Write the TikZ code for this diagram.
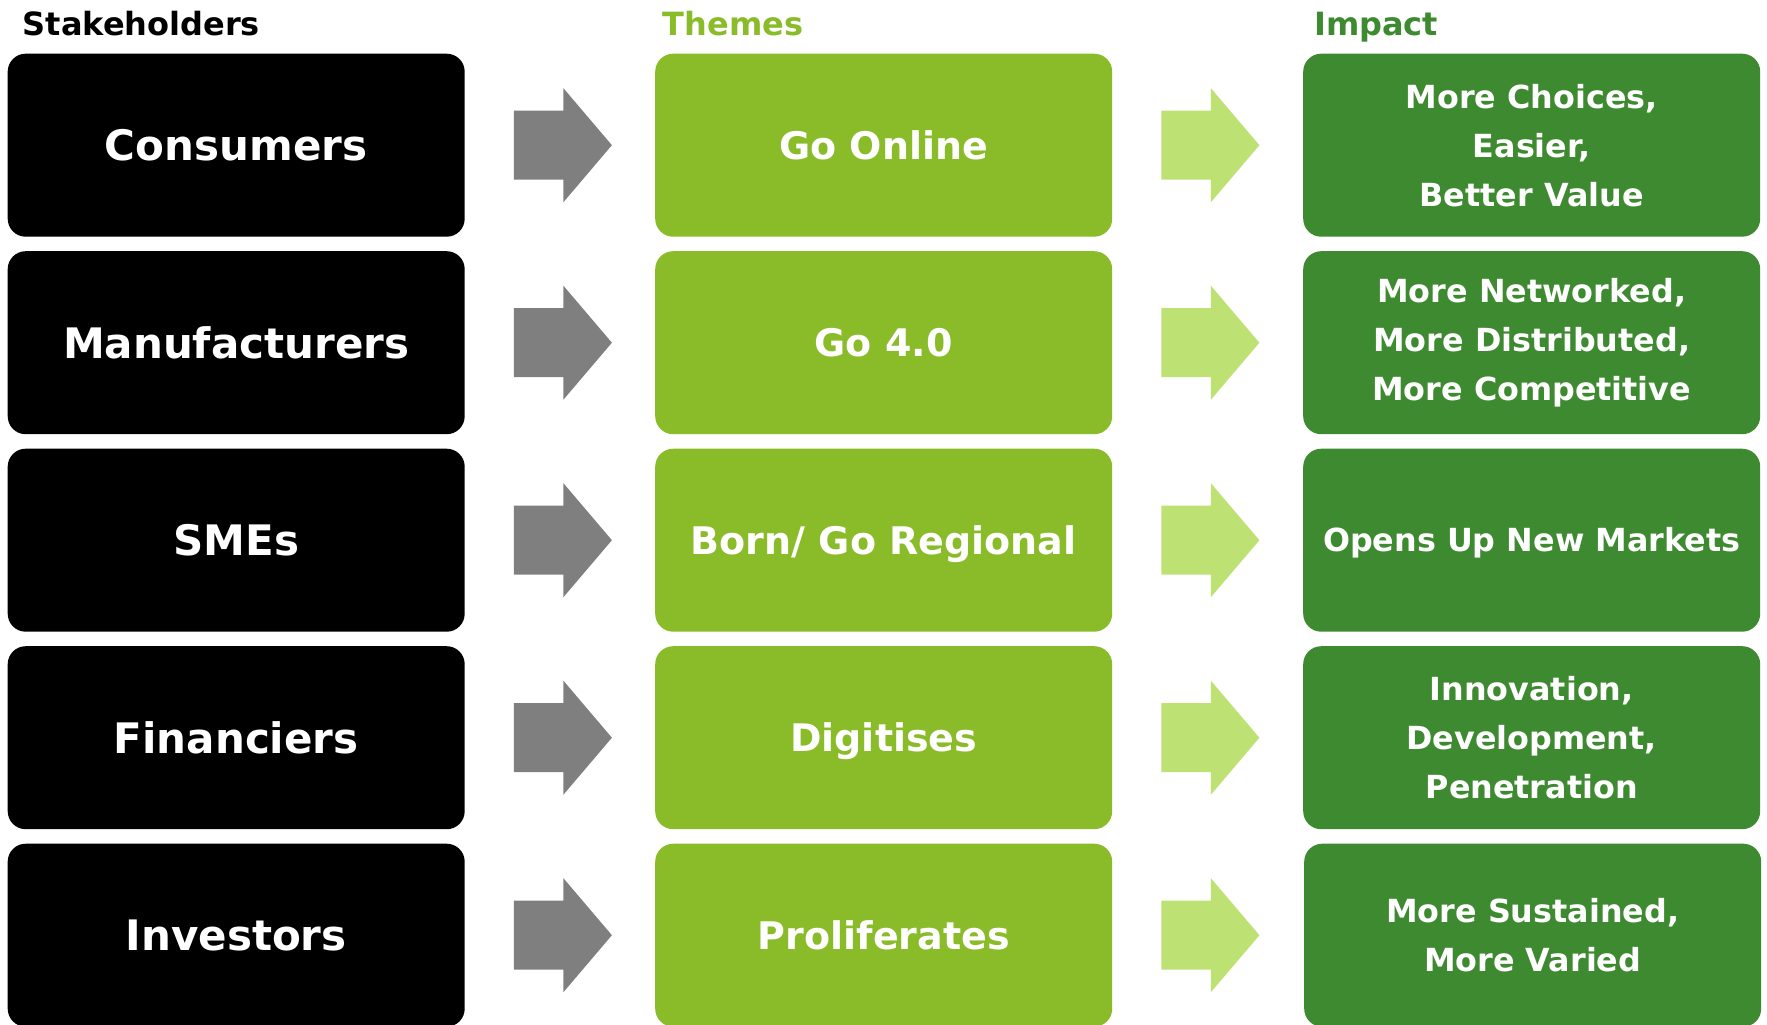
\documentclass[tikz,border=0pt]{standalone}
\usepackage{fontspec}
\setmainfont{DejaVu Sans}
\usetikzlibrary{calc}
\definecolor{themegreen}{HTML}{8ABB28}
\definecolor{impactgreen}{HTML}{3E8A30}
\definecolor{arrowgray}{HTML}{7F7F7F}
\definecolor{arrowlight}{HTML}{BDE273}
\begin{document}
\begin{tikzpicture}[x=1pt,y=-1pt,
  box/.style={rounded corners=18pt, minimum width=457pt, minimum height=183pt, inner sep=0pt, anchor=north west, text=white, align=center},
  oneline/.style={text height=#1, text depth=0pt},
  stake/.style={box, oneline=30.7pt, fill=black, font=\bfseries\fontsize{42}{49}\selectfont},
  theme/.style={box, oneline=27.7pt, fill=themegreen, font=\bfseries\fontsize{38}{49}\selectfont},
  impact/.style={box, fill=impactgreen, font=\bfseries\fontsize{31.8}{49}\selectfont},
  title/.style={anchor=base west, inner sep=0pt, font=\bfseries\fontsize{32}{36}\selectfont},
  grayarrow/.style={fill=arrowgray},
  lightarrow/.style={fill=arrowlight},
]
\useasboundingbox (0,0) rectangle (1767,1025);
\clip (0,0) rectangle (1767,1025);

% titles
\node[title, text=black] (h1) at (22.5,36) {Stakeholders};
\node[title, text=themegreen] (h2) at (662.5,36) {Themes};
\node[title, text=impactgreen] (h3) at (1314,36) {Impact};

% column 1
\node[stake] (s1) at (7.5,53.5) {Consumers};
\node[stake] (s2) at (7.5,251) {Manufacturers};
\node[stake] (s3) at (7.5,448.5) {SMEs};
\node[stake] (s4) at (7.5,646) {Financiers};
\node[stake] (s5) at (7.5,843.5) {Investors};

% column 2
\node[theme] (t1) at (655,53.5) {Go Online};
\node[theme] (t2) at (655,251) {Go 4.0};
\node[theme] (t3) at (655,448.5) {Born/ Go Regional};
\node[theme] (t4) at (655,646) {Digitises};
\node[theme] (t5) at (655,843.5) {Proliferates};

% column 3
\node[impact] (i1) at (1303,53.5) {More Choices,\\Easier,\\Better Value};
\node[impact] (i2) at (1303,251) {More Networked,\\More Distributed,\\More Competitive};
\node[impact, oneline=23.2pt] (i3) at (1303,448.5) {Opens Up New Markets};
\node[impact] (i4) at (1303,646) {Innovation,\\Development,\\Penetration};
\node[impact] (i5) at (1304,843.5) {More Sustained,\\More Varied};

% arrows
\foreach \r in {1,...,5}{
  \fill[grayarrow] ($(s\r.east)+(49,-34.5)$) -- ++(49.5,0) -- ++(0,-22.5)
      -- ++(48.5,57) -- ++(-48.5,57) -- ++(0,-22.5) -- ++(-49.5,0) -- cycle;
  \fill[lightarrow] ($(t\r.east)+(49,-34.5)$) -- ++(49.5,0) -- ++(0,-22.5)
      -- ++(48.5,57) -- ++(-48.5,57) -- ++(0,-22.5) -- ++(-49.5,0) -- cycle;
}
\end{tikzpicture}
\end{document}
